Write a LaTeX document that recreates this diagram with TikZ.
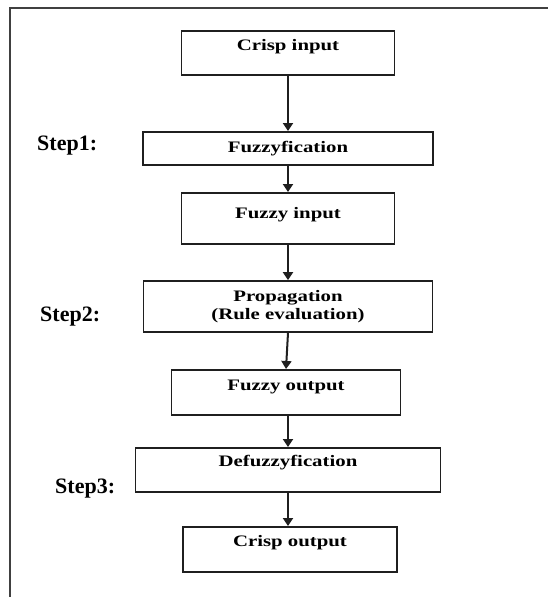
\documentclass[tikz,border=0pt]{standalone}
\usepackage{fontspec}
\setmainfont{Liberation Serif}
\newfontfamily\boxfont[FakeStretch=1.3]{Liberation Serif}
\usetikzlibrary{arrows.meta}
\tikzset{
  box/.style={draw=black!88, line width=1.8pt, rectangle, inner xsep=0pt, inner ysep=0pt,
    anchor=north, font=\boxfont\bfseries\fontsize{16}{18}\selectfont},
  steplabel/.style={anchor=west, inner sep=0pt, font=\bfseries\fontsize{22}{24}\selectfont},
  conn/.style={draw=black!88, line width=2pt, -{Triangle[length=8pt,width=10pt]}},
  frameline/.style={draw=black!75, line width=2pt}
}
\begin{document}
\begin{tikzpicture}[x=1pt,y=-1pt]
\useasboundingbox (0,0) rectangle (548,597);
\coordinate (ftr) at (548,8);
\coordinate (ftl) at (10,8);
\coordinate (fbl) at (10,597);
\draw[frameline] (ftr) -- (ftl) -- (fbl);

\node[box, minimum width=213pt, text height=20pt, text depth=24pt] (c1) at (288,30) {Crisp input};
\node[box, minimum width=290pt, text height=21pt, text depth=12pt] (fz) at (288,131) {Fuzzyfication};
\node[box, minimum width=213pt, text height=26pt, text depth=25pt] (fi) at (288,192) {Fuzzy input};
\node[box, minimum width=289pt, minimum height=51pt, align=center, anchor=center] (pr) at (288,306.5) {Propagation\\(Rule evaluation)};
\node[box, minimum width=229pt, text height=21pt, text depth=24pt] (fo) at (286,369) {Fuzzy output};
\node[box, minimum width=305pt, text height=19pt, text depth=25pt] (df) at (288,447) {Defuzzyfication};
\node[box, minimum width=214pt, text height=20pt, text depth=25pt] (co) at (290,526) {Crisp output};

\node[steplabel] (s1) at (37,146) {Step1:};
\node[steplabel] (s2) at (40,317) {Step2:};
\node[steplabel] (s3) at (55,489) {Step3:};

\draw[conn] (c1.south) -- (fz.north);
\draw[conn] (fz.south) -- (fi.north);
\draw[conn] (fi.south) -- (pr.north);
\draw[conn] (pr.south) -- (fo.north);
\draw[conn] (fo.south -| df.north) -- (df.north);
\draw[conn] (df.south) -- (df.south |- co.north);
\end{tikzpicture}
\end{document}
